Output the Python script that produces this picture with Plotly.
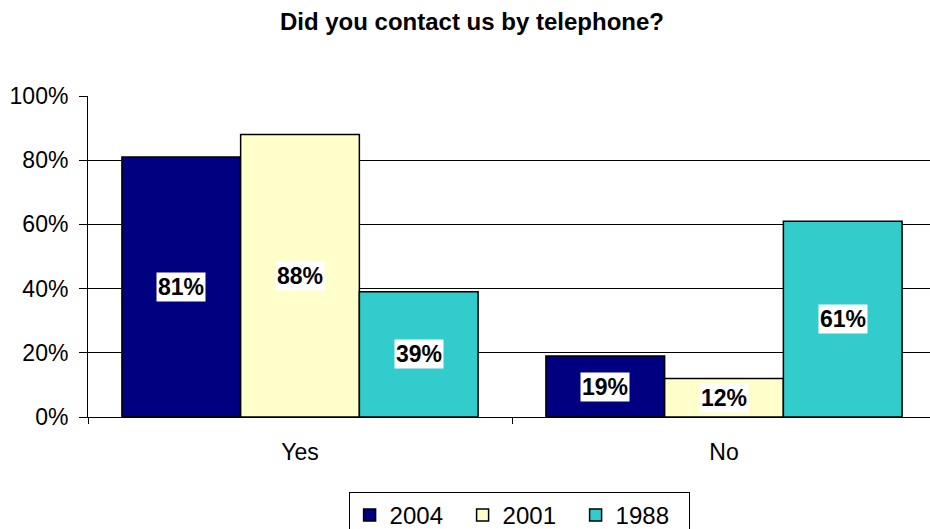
import plotly.graph_objects as go

# Survey answers by year
answers = ["Yes", "No"]
years = ["2004", "2001", "1988"]
share_2004 = [81, 19]
share_2001 = [88, 12]
share_1988 = [39, 61]
colors = ["#000080", "#FFFFCC", "#33CCCC"]
y_ticks = [0, 20, 40, 60, 80, 100]

series = [share_2004, share_2001, share_1988]

FONT = "Liberation Sans, Arial, sans-serif"
BAR_GAP = 0.16

fig = go.Figure()
for year, vals, col in zip(years, series, colors):
    fig.add_trace(go.Bar(
        x=answers, y=vals, name=year,
        marker=dict(color=col, line=dict(color="black", width=1.5)),
    ))

# Value labels sit in white boxes at the middle of each bar
slot = (1 - BAR_GAP) / len(series)
for j, vals in enumerate(series):
    for i, v in enumerate(vals):
        fig.add_annotation(
            x=i + (j - (len(series) - 1) / 2) * slot, y=v / 2,
            xref="x", yref="y", text=f"{v}%", showarrow=False,
            font=dict(family=FONT, size=23, color="black", weight="bold"),
            bgcolor="white", borderpad=1,
        )

fig.update_layout(
    width=930, height=529,
    margin=dict(l=88, r=0, t=96, b=112, autoexpand=False),
    paper_bgcolor="white", plot_bgcolor="white",
    barmode="group", bargap=BAR_GAP, bargroupgap=0,
    font=dict(family=FONT, size=23, color="black"),
    title=dict(
        text="<b>Did you contact us by telephone?</b>",
        x=0.5075, xref="container", xanchor="center",
        y=1 - 22 / 529, yref="container", yanchor="middle",
        font=dict(family=FONT, size=24, color="black"),
    ),
    legend=dict(
        orientation="h", x=0.512, xanchor="center",
        y=(417 - 492) / 321, yanchor="top",
        bordercolor="black", borderwidth=1,
        font=dict(family=FONT, size=24),
        itemwidth=30, traceorder="normal",
        entrywidth=68, entrywidthmode="pixels",
    ),
    showlegend=True,
)

fig.update_xaxes(
    type="category", range=[-0.5, 1.5 - 6 / 424],
    showline=True, linecolor="black", linewidth=1,
    ticks="outside", tickson="boundaries", ticklen=6, tickcolor="black",
    ticklabelstandoff=14, showgrid=False,
    tickfont=dict(family=FONT, size=23),
)
fig.update_yaxes(
    range=[0, 100], tickvals=y_ticks, ticktext=[f"{t}%" for t in y_ticks],
    showline=True, linecolor="black", linewidth=1,
    ticks="outside", ticklen=8, tickcolor="black",
    ticklabelstandoff=6,
    showgrid=True, gridcolor="black", gridwidth=1,
    zeroline=False,
    tickfont=dict(family=FONT, size=23),
)

fig.write_html("out.html")
